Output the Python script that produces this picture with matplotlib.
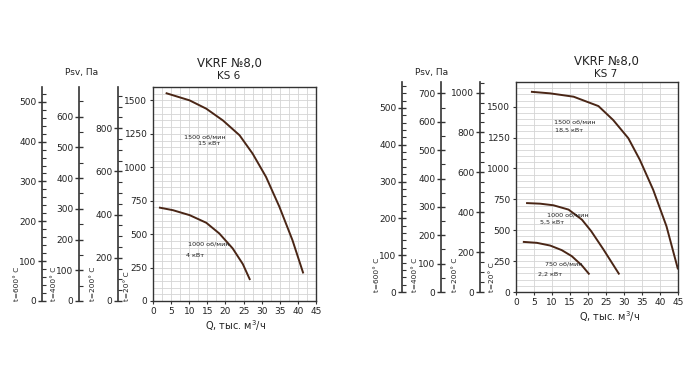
import matplotlib
matplotlib.use('Agg')
import matplotlib.pyplot as plt
from matplotlib.ticker import MultipleLocator
import numpy as np

W, H = 700, 382
plt.rcParams['font.family'] = ['DejaVu Sans']

# KS 6 curves (Q in thousands m3/h, Psv in Pa at 20 C)
ks6_q_1500 = [3.5, 10.1, 14.7, 19.3, 23.9, 27.5, 31.2, 34.9, 38.5, 41.5]
ks6_p_1500 = [1555, 1500, 1438, 1350, 1239, 1102, 928, 704, 455, 206]
ks6_q_1000 = [1.65, 5.5, 10.1, 14.7, 18.3, 22.0, 24.8, 26.8]
ks6_p_1000 = [699, 679, 642, 585, 505, 393, 276, 157]

# KS 7 curves
ks7_q_1500 = [4.15, 9.5, 16.0, 22.9, 27.0, 31.2, 34.4, 38.1, 41.8, 45.0]
ks7_p_1500 = [1621, 1608, 1581, 1505, 1392, 1245, 1070, 828, 532, 183]
ks7_q_1000 = [2.8, 6.7, 10.4, 14.6, 18.3, 20.9, 24.3, 28.7]
ks7_p_1000 = [720, 715, 702, 667, 586, 492, 344, 142]
ks7_q_750 = [1.9, 5.8, 9.5, 12.7, 15.5, 18.3, 20.4]
ks7_p_750 = [406, 398, 376, 339, 290, 215, 142]

temps = [600, 400, 200]
aux_major = {600: 100, 400: 100, 200: 200}
aux_minor = {600: 20, 400: 50, 200: 50}

curve_color = '#4a2616'
axis_color = '#333333'
text_color = '#222222'


def rect(x0, y0, x1, y1):
    # pixel box (top-left origin) -> figure fraction
    return [x0 / W, 1 - y1 / H, (x1 - x0) / W, (y1 - y0) / H]


def aux_axis(fig, x, y0, y1, pmax, t):
    # extra pressure scale for a higher gas temperature (density ratio)
    ax = fig.add_axes(rect(x, y0, x + 0.5, y1))
    ax.set_ylim(0, pmax * 293.0 / (273 + t))
    ax.set_xlim(0, 1)
    for s in ['top', 'right', 'bottom']:
        ax.spines[s].set_visible(False)
    ax.spines['left'].set_color(axis_color)
    ax.spines['left'].set_linewidth(1.2)
    ax.set_xticks([])
    ax.yaxis.set_major_locator(MultipleLocator(aux_major[t]))
    ax.yaxis.set_minor_locator(MultipleLocator(aux_minor[t]))
    ax.tick_params(axis='y', which='major', direction='inout', length=6,
                   width=1, labelsize=6.5, pad=1, colors=axis_color,
                   labelcolor=text_color)
    ax.tick_params(axis='y', which='minor', direction='in', length=3,
                   width=0.8, colors=axis_color)
    ax.patch.set_visible(False)
    return ax


def panel(fig, main_box, aux_x, t_label_x, pmax, xgrid, curves, labels,
          title_pos, ks, psv_pos, xlabel_pos):
    x0, y0, x1, y1 = main_box
    ax = fig.add_axes(rect(*main_box))
    ax.set_xlim(0, 45)
    ax.set_ylim(0, pmax)
    ax.xaxis.set_major_locator(MultipleLocator(5))
    ax.xaxis.set_minor_locator(MultipleLocator(xgrid))
    ax.yaxis.set_major_locator(MultipleLocator(250))
    ax.yaxis.set_minor_locator(MultipleLocator(50))
    ax.grid(which='both', color='#d4d4d4', linewidth=0.6)
    ax.set_axisbelow(True)
    for s in ax.spines.values():
        s.set_color(axis_color)
        s.set_linewidth(1.0)
    ax.tick_params(axis='both', which='major', labelsize=6.5, length=2, pad=2,
                   colors=axis_color, labelcolor=text_color)
    ax.tick_params(axis='both', which='minor', length=0)

    for q, p in curves:
        ax.plot(q, p, color=curve_color, linewidth=1.4, solid_capstyle='butt')
    for (qx, py, s) in labels:
        ax.text(qx, py, s, fontsize=4.6, ha='center', va='center', color=text_color)

    for x, t in zip(aux_x, temps):
        aux_axis(fig, x, y0, y1, pmax, t)

    for x, t in zip(t_label_x, temps + [20]):
        fig.text(x / W, 1 - y1 / H, 't=%d° C' % t, rotation=90, fontsize=5.3,
                 ha='center', va='bottom', color=text_color)

    fig.text(title_pos[0] / W, 1 - title_pos[1] / H, 'VKRF №8,0', fontsize=8.5,
             ha='center', va='center', color=text_color)
    fig.text(title_pos[0] / W, 1 - (title_pos[1] + 13) / H, ks, fontsize=7.5,
             ha='center', va='center', color=text_color)
    fig.text(psv_pos[0] / W, 1 - psv_pos[1] / H, 'Psv, Па', fontsize=6.5,
             ha='center', va='center', color=text_color)
    fig.text(xlabel_pos[0] / W, 1 - xlabel_pos[1] / H, 'Q, тыс. м$^3$/ч',
             fontsize=7, ha='center', va='center', color=text_color)
    return ax


fig = plt.figure(figsize=(W / 100, H / 100), dpi=100)
fig.patch.set_facecolor('white')

panel(fig, (153, 87, 316, 301), [42, 79, 118], [17, 54, 93, 127], 1600, 2.5,
      [(ks6_q_1500, ks6_p_1500), (ks6_q_1000, ks6_p_1000)],
      [(14.2, 1226, '1500 об/мин'), (15.5, 1177, '15 кВт'),
       (15.5, 425, '1000 об/мин'), (11.5, 343, '4 кВт')],
      (229, 63), 'KS 6', (82, 72), (236, 326))

panel(fig, (516, 82, 678, 292), [402, 441, 480], [377, 415, 455, 492], 1700, 5,
      [(ks7_q_1500, ks7_p_1500), (ks7_q_1000, ks7_p_1000), (ks7_q_750, ks7_p_750)],
      [(16.4, 1379, '1500 об/мин'), (14.6, 1312, '18,5 кВт'),
       (14.4, 621, '1000 об/мин'), (10.0, 565, '5,5 кВт'),
       (13.2, 223, '750 об/мин'), (9.5, 142, '2,2 кВт')],
      (606, 61), 'KS 7', (432, 72), (610, 317))

fig.savefig('out.png', dpi=100)
